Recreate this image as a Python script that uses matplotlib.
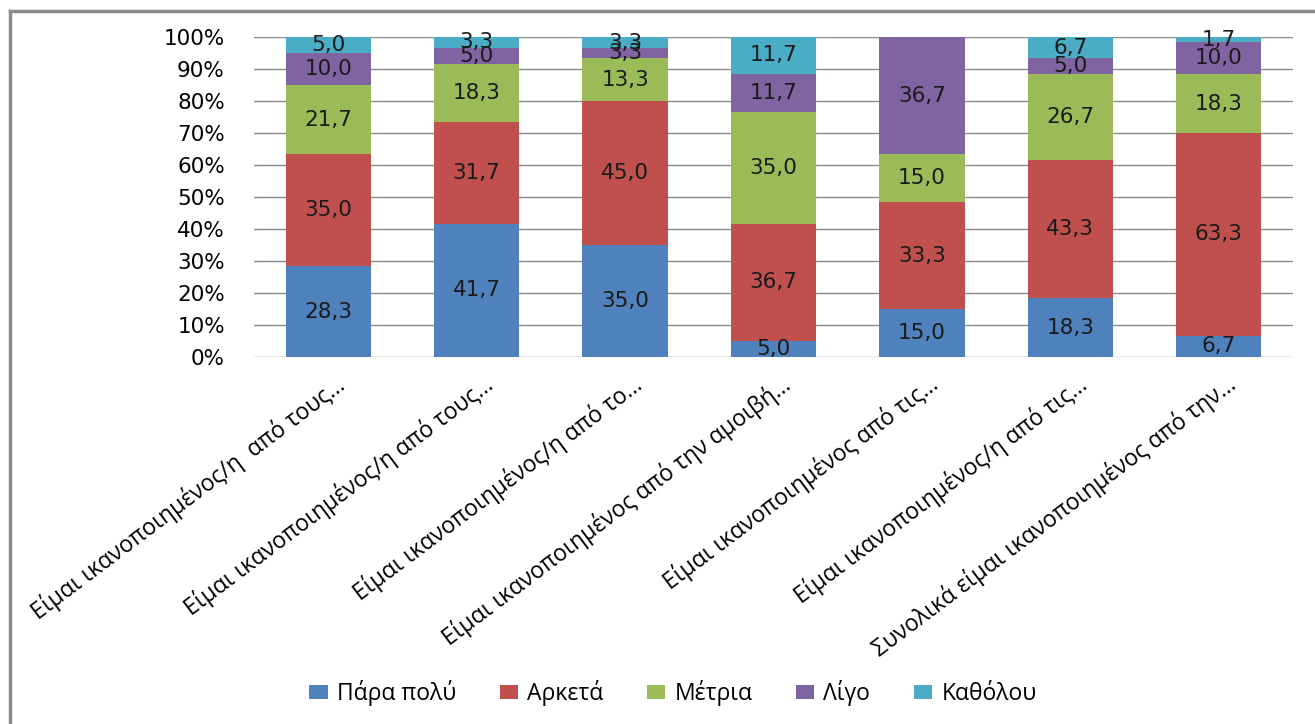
import matplotlib
matplotlib.use("Agg")
import matplotlib.pyplot as plt
from matplotlib.lines import Line2D
from matplotlib.transforms import ScaledTranslation
import numpy as np

categories = [
    "Είμαι ικανοποιημένος/η  από τους…",
    "Είμαι ικανοποιημένος/η από τους…",
    "Είμαι ικανοποιημένος/η από το…",
    "Είμαι ικανοποιημένος από την αμοιβή…",
    "Είμαι ικανοποιημένος από τις…",
    "Είμαι ικανοποιημένος/η από τις…",
    "Συνολικά είμαι ικανοποιημένος από την…",
]
series_names = ["Πάρα πολύ", "Αρκετά", "Μέτρια", "Λίγο", "Καθόλου"]
para_poly = [28.3, 41.7, 35.0, 5.0, 15.0, 18.3, 6.7]
arketa = [35.0, 31.7, 45.0, 36.7, 33.3, 43.3, 63.3]
metria = [21.7, 18.3, 13.3, 35.0, 15.0, 26.7, 18.3]
ligo = [10.0, 5.0, 3.3, 11.7, 36.7, 5.0, 10.0]
katholou = [5.0, 3.3, 3.3, 11.7, 0.0, 6.7, 1.7]
yticks = [0, 10, 20, 30, 40, 50, 60, 70, 80, 90, 100]

series = [para_poly, arketa, metria, ligo, katholou]
colors = ["#4F81BD", "#C0504D", "#9BBB59", "#8064A2", "#4BACC6"]

W, H = 1315, 724
fig = plt.figure(figsize=(W / 100, H / 100), dpi=100)
ax = fig.add_axes([254 / W, (H - 357) / H, (1293 - 254) / W, (357 - 37) / H])

x = np.arange(len(categories))
bottom = np.zeros(len(categories))
for name, vals, col in zip(series_names, series, colors):
    vals = np.array(vals)
    ax.bar(x, vals, bottom=bottom, width=0.575, color=col, label=name, zorder=3)
    for xi, b, v in zip(x, bottom, vals):
        if v > 0:
            ax.text(xi, b + v / 2, f"{v:.1f}".replace(".", ","), ha="center", va="center",
                    fontsize=15.5, color="#1a1a1a", family="DejaVu Sans", zorder=4)
    bottom += vals

ax.set_xlim(-0.5, len(categories) - 0.5)
ax.set_ylim(0, 100)
ax.set_yticks(yticks)
ax.set_yticklabels([f"{t}%" for t in yticks], fontsize=15.5, family="DejaVu Sans")
ax.yaxis.grid(True, color="#8a8a8a", linewidth=1.0, zorder=0)
ax.tick_params(axis="y", length=0, pad=21)
ax.tick_params(axis="x", length=0, pad=18)
for s in ax.spines.values():
    s.set_visible(False)
ax.set_xticks(x)
ax.set_xticklabels(categories, rotation=37, ha="right", va="center",
                   rotation_mode="anchor", fontsize=16.5, family="Open Sans")
offset = ScaledTranslation(14 / 100, 0, fig.dpi_scale_trans)
for lbl in ax.get_xticklabels():
    lbl.set_transform(lbl.get_transform() + offset)

fig.legend(loc="center", bbox_to_anchor=(673 / W, (H - 693) / H), ncol=5, frameon=False,
           prop={"family": "Open Sans", "size": 16.5}, handlelength=0.8, handleheight=0.6,
           handletextpad=0.4, columnspacing=1.9)

fig.add_artist(Line2D([10 / W, 10 / W], [0, (H - 11) / H], transform=fig.transFigure,
                      color="#8c8c8c", linewidth=2.5))
fig.add_artist(Line2D([10 / W, 1], [(H - 11) / H, (H - 11) / H], transform=fig.transFigure,
                      color="#8c8c8c", linewidth=2.5))

fig.savefig("out.png", dpi=100)
